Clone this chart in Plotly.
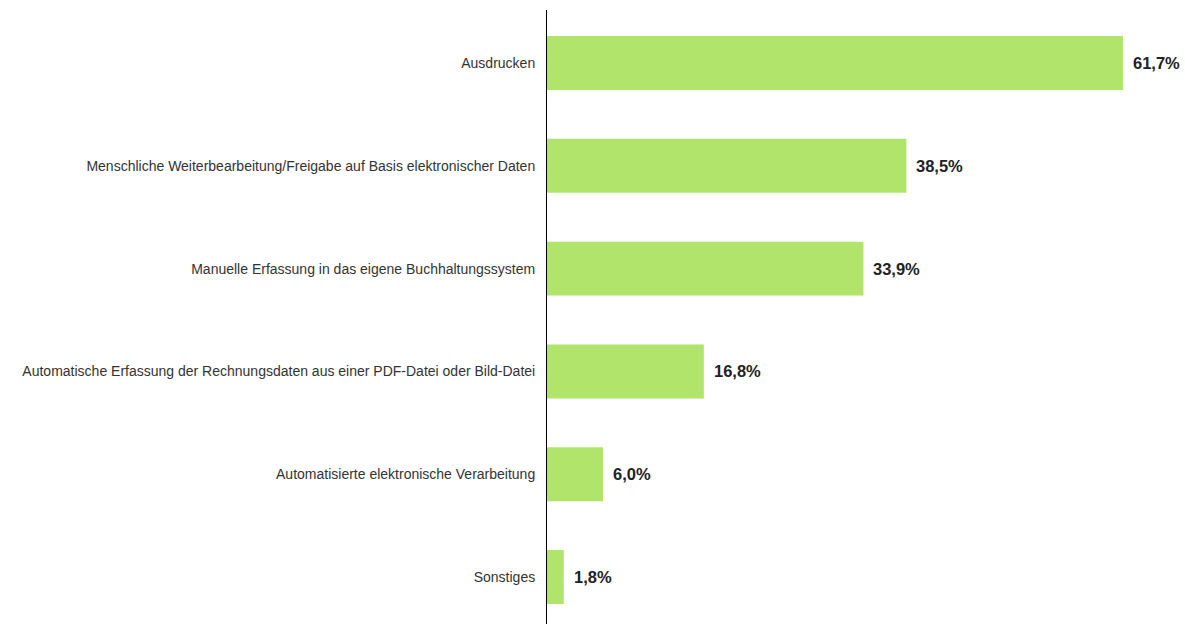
import plotly.graph_objects as go

categories = [
    "Ausdrucken",
    "Menschliche Weiterbearbeitung/Freigabe auf Basis elektronischer Daten",
    "Manuelle Erfassung in das eigene Buchhaltungssystem",
    "Automatische Erfassung der Rechnungsdaten aus einer PDF-Datei oder Bild-Datei",
    "Automatisierte elektronische Verarbeitung",
    "Sonstiges",
]
values = [61.7, 38.5, 33.9, 16.8, 6.0, 1.8]
value_labels = [f"{v:.1f}%".replace(".", ",") for v in values]

fig = go.Figure()
fig.add_trace(go.Bar(
    x=values, y=categories, orientation="h",
    marker=dict(color="#b0e46a", line=dict(width=0)),
    width=0.525, hoverinfo="skip",
))
for c, v, t in zip(categories, values, value_labels):
    fig.add_annotation(x=v, y=c, text=f"<b>{t}</b>", showarrow=False,
                       xanchor="left", xshift=8,
                       font=dict(family="Liberation Sans, Arial", size=16.5, color="#222222"))

fig.update_layout(
    width=1185, height=624,
    margin=dict(l=547, r=0, t=10, b=0),
    paper_bgcolor="white", plot_bgcolor="white",
    showlegend=False,
    xaxis=dict(range=[0, 68.35], visible=False, showgrid=False, zeroline=False),
    yaxis=dict(range=[5.457, -0.516], showline=True, linecolor="#000000", linewidth=1,
               showgrid=False, zeroline=False, ticks="", ticklabelstandoff=8,
               tickfont=dict(family="Liberation Sans, Arial", size=14, color="#333333")),
)
fig.write_html("out.html", config={"displayModeBar": False},
               post_script="document.body.style.margin='0';")
